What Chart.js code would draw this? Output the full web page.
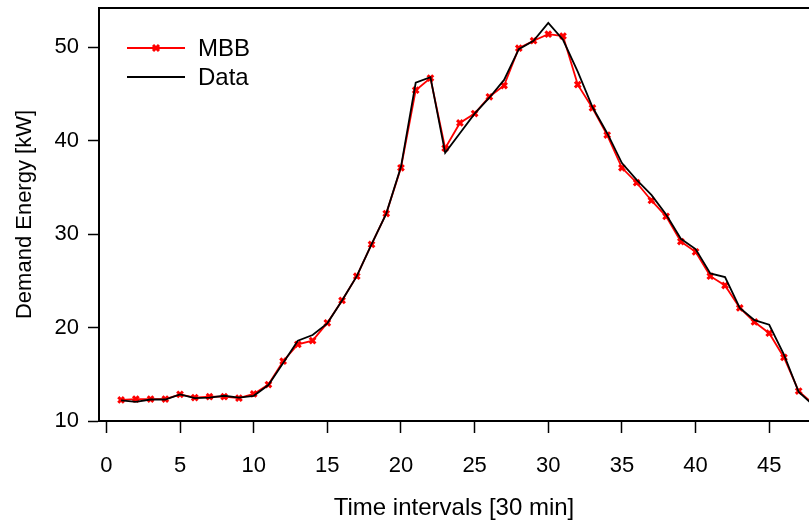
<!DOCTYPE html>
<html>
<head>
<meta charset="utf-8">
<script src="https://cdn.jsdelivr.net/npm/chart.js@4/dist/chart.umd.min.js"></script>
<style>
  html, body { margin: 0; padding: 0; background: #fff; }
  #wrap { width: 809px; height: 525px; }
</style>
</head>
<body>
<div id="wrap"><canvas id="chart" width="809" height="525"></canvas></div>
<script>
// time intervals (30 min)
var intervals = [1,2,3,4,5,6,7,8,9,10,11,12,13,14,15,16,17,18,19,20,21,22,23,24,
                 25,26,27,28,29,30,31,32,33,34,35,36,37,38,39,40,41,42,43,44,45,46,47,48];
// MBB forecast
var mbb = [12.25,12.35,12.35,12.35,12.85,12.5,12.6,12.6,12.45,12.9,13.9,16.4,18.2,18.6,20.5,22.9,
           25.5,28.9,32.2,37.1,45.4,46.7,39.2,41.9,42.9,44.7,45.9,49.9,50.7,51.4,51.2,46.0,
           43.5,40.6,37.1,35.5,33.6,31.9,29.2,28.1,25.5,24.5,22.1,20.6,19.4,16.8,13.2,11.8];
// measured data
var measured = [12.2,12.05,12.3,12.3,12.85,12.45,12.5,12.7,12.5,12.7,13.85,16.2,18.6,19.2,20.45,22.9,
                25.5,28.9,32.2,37.2,46.2,46.8,38.7,40.8,42.9,44.6,46.5,49.8,50.7,52.6,50.8,47.4,
                43.6,40.8,37.6,35.8,34.2,32.1,29.5,28.4,25.8,25.4,22.1,20.8,20.3,17.1,13.1,11.7];
var yTicks = [10, 20, 30, 40, 50];
var xTicks = [0, 5, 10, 15, 20, 25, 30, 35, 40, 45];

var FONT = 'Liberation Sans, Arial, sans-serif';

function pts(arr) {
  return intervals.map(function(x, i) { return {x: x, y: arr[i]}; });
}

// legend inside the plot, top left
var legendPlugin = {
  id: 'insideLegend',
  afterDraw: function(chart) {
    var c = chart.ctx;
    var a = chart.chartArea;
    var x0 = a.left + 28, x1 = a.left + 86;
    var rows = [
      {text: 'MBB', color: '#ff0000', marker: true, y: a.top + 40},
      {text: 'Data', color: '#000000', marker: false, y: a.top + 69}
    ];
    c.save();
    rows.forEach(function(r) {
      c.strokeStyle = r.color;
      c.lineWidth = 2;
      c.beginPath();
      c.moveTo(x0, r.y);
      c.lineTo(x1, r.y);
      c.stroke();
      if (r.marker) {
        var m = (x0 + x1) / 2, s = 3;
        c.lineWidth = 3;
        c.beginPath();
        c.moveTo(m - s, r.y - s); c.lineTo(m + s, r.y + s);
        c.moveTo(m - s, r.y + s); c.lineTo(m + s, r.y - s);
        c.stroke();
      }
      c.fillStyle = '#000';
      c.font = '24px ' + FONT;
      c.textBaseline = 'middle';
      c.textAlign = 'left';
      c.fillText(r.text, x1 + 13, r.y + 1);
    });
    // top frame line
    c.strokeStyle = '#000';
    c.lineWidth = 2;
    c.beginPath();
    c.moveTo(a.left - 1, a.top);
    c.lineTo(a.right + 2, a.top);
    c.stroke();
    c.restore();
  }
};

var ctx = document.getElementById('chart').getContext('2d');
var myChart = new Chart(ctx, {
  type: 'line',
  data: {
    datasets: [{
      label: 'MBB',
      data: pts(mbb),
      borderColor: '#ff0000',
      backgroundColor: '#ff0000',
      borderWidth: 1.8,
      pointStyle: 'crossRot',
      pointRadius: 4,
      pointBorderWidth: 3,
      pointBorderColor: '#ff0000',
      tension: 0,
      order: 1
    }, {
      label: 'Data',
      data: pts(measured),
      borderColor: '#000000',
      borderWidth: 1.8,
      pointRadius: 0,
      tension: 0,
      order: 0
    }]
  },
  options: {
    responsive: false,
    animation: false,
    layout: { autoPadding: false, padding: { top: 8, right: 0, left: 0, bottom: 0 } },
    plugins: { legend: { display: false }, tooltip: { enabled: false } },
    scales: {
      x: {
        type: 'linear',
        min: -0.5,
        max: 47.7,
        afterFit: function(s) { s.height = 104; s.paddingLeft = 0; s.paddingRight = 0; },
        afterBuildTicks: function(s) { s.ticks = xTicks.map(function(v) { return {value: v}; }); },
        ticks: { color: '#000', font: { family: FONT, size: 22 }, padding: 20, maxRotation: 0, autoSkip: false },
        grid: { drawOnChartArea: false, drawTicks: true, tickLength: 12, color: '#000', tickWidth: 1.5 },
        border: { color: '#000', width: 2 },
        title: { display: true, text: 'Time intervals [30 min]', color: '#000',
                 font: { family: FONT, size: 24 }, padding: { top: 0, bottom: 2 } }
      },
      y: {
        min: 10,
        max: 54.2,
        afterFit: function(s) { s.width = 99; s.paddingTop = 0; s.paddingBottom = 0; },
        afterBuildTicks: function(s) { s.ticks = yTicks.map(function(v) { return {value: v}; }); },
        ticks: { color: '#000', font: { family: FONT, size: 22 }, padding: 9 },
        grid: { drawOnChartArea: false, drawTicks: true, tickLength: 11, color: '#000', tickWidth: 1.5 },
        border: { color: '#000', width: 2 },
        title: { display: true, text: 'Demand Energy [kW]', color: '#000',
                 font: { family: FONT, size: 22 }, padding: { top: 12, bottom: 0 } }
      }
    }
  },
  plugins: [legendPlugin]
});
</script>
</body>
</html>
